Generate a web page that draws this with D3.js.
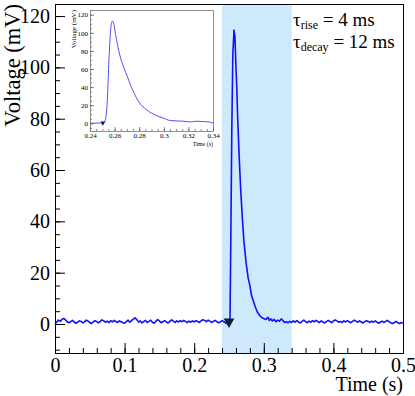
<!DOCTYPE html>
<html>
<head>
<meta charset="utf-8">
<script src="https://cdn.jsdelivr.net/npm/d3@7"></script>
<style>
  html, body { margin: 0; padding: 0; background: #fff; }
  svg { display: block; }
  svg text { font-family: "Liberation Serif", Tinos, "Times New Roman", Times, "DejaVu Serif", serif !important; fill: #000; }
</style>
</head>
<body>
<svg id="chart" width="415" height="396"></svg>
<script>
// ---------------- data ----------------
// baseline before the pulse: samples evenly spaced from 0 to 0.25 s
const baselineBefore = [0.0, 0.8, 1.5, 1.0, 1.8, 2.2, 1.6, 0.9, 0.5, 0.9, 1.4, 0.8, 0.3, 0.7, 1.2, 1.0, 0.4, 0.9, 1.5, 1.1,
  0.6, 0.2, 0.8, 1.3, 0.9, 0.4, 1.0, 1.6, 1.2, 0.7, 1.1, 0.5, 1.3, 0.8, 1.4, 1.0, 0.6, 1.2, 0.9, 0.5,
  0.3, 0.9, 1.5, 0.7, 1.3, 1.9, 2.4, 1.7, 0.8, 1.2, 0.4, 0.9, 1.4, 0.6, 1.0, 1.5, 0.7, 0.3, 1.1, 1.7,
  1.2, 0.5, 0.9, 1.3, 0.8, 0.4, 1.0, 1.6, 1.1, 0.6, 1.2, 0.8, 1.3, 0.9, 1.4, 1.0, 0.5, 1.1, 0.7, 1.2,
  0.8, 1.3, 1.0, 0.6, 1.2, 1.7, 1.4, 0.9, 1.5, 1.1, 0.6, 1.0, 1.4, 0.9, 0.5, 0.8, 1.3, 0.9, 0.4, 0.2, 0.0];
const baselineBeforeRange = [0, 0.25];
// pulse region (time s, voltage mV)
const pulseTime = [0.2505, 0.2515, 0.2525, 0.2540, 0.2555, 0.2572, 0.2585, 0.2600, 0.2612, 0.2625, 0.2645, 0.2665,
  0.2690, 0.2715, 0.2745, 0.2775, 0.2800, 0.2825, 0.2850, 0.2880, 0.2910, 0.2950, 0.2990, 0.3030, 0.3060, 0.3080];
const pulseVolt = [0.5, 3, 30, 75, 105, 114.5, 112, 100, 92, 80, 66, 54,
  42, 32, 24, 18, 15, 11, 9, 6.5, 4.5, 3, 2.2, 1.8, 2.6, 1.4];
// baseline after the pulse: samples evenly spaced from 0.31 to 0.5 s
const baselineAfter = [2.0, 1.2, 1.8, 0.9, 1.5, 1.1, 2.0, 1.3, 0.6, 0.9, 0.5, 1.0, 0.6, 1.2, 0.7, 1.3, 0.8, 0.4, 1.0, 1.5,
  0.9, 0.5, 1.1, 0.7, 1.3, 0.8, 1.4, 1.0, 0.6, 1.2, 0.8, 0.4, 0.9, 1.4, 1.0, 0.5, 1.1, 1.6, 1.2, 0.7,
  1.0, 0.6, 1.2, 0.8, 1.3, 0.9, 0.5, 1.0, 1.5, 1.1, 0.7, 1.2, 0.8, 0.4, 0.9, 1.3, 1.0, 0.6, 1.1, 0.7,
  1.2, 0.8, 0.3, 0.7, 1.1, 0.6, 1.0, 1.4, 0.9, 0.4, 0.2, 0.6, 1.0, 0.5, 0.2, 0.6, 0.3];
const baselineAfterRange = [0.31, 0.5];
// trigger marker
const markerPoint = [0.25, 0.9];
// shaded window
const windowRange = [0.24, 0.34];
// inset: averaged pulse
const insetTime = [0.24, 0.245, 0.2505, 0.2515, 0.2527, 0.2541, 0.2554, 0.2568, 0.2581, 0.2595, 0.2608, 0.2622,
  0.2649, 0.2676, 0.2703, 0.2730, 0.2757, 0.2778, 0.2811, 0.2851, 0.2878, 0.2919, 0.2959, 0.30, 0.3054,
  0.3108, 0.3162, 0.3216, 0.327, 0.3324, 0.3370, 0.3392, 0.34];
const insetVolt = [0, 0.2, 0.5, 1, 5, 26, 70, 103, 113, 109, 98, 88,
  72, 61, 52, 42, 34, 28, 21, 16, 13, 10, 7.5, 5.5, 3,
  2.6, 2.3, 1.5, 2.3, 1.9, 1.5, 0.4, 0.8];
const insetMarker = [0.2505, 0.5];
// ticks
const xMajorTicks = [0, 0.1, 0.2, 0.3, 0.4, 0.5];
const xTickLabels = ["0", "0.1", "0.2", "0.3", "0.4", "0.5"];
const yMajorTicks = [0, 20, 40, 60, 80, 100, 120];
const yTickLabels = ["0", "20", "40", "60", "80", "100", "120"];
const insetXTicks = [0.24, 0.26, 0.28, 0.30, 0.32, 0.34];
const insetXLabels = ["0.24", "0.26", "0.28", "0.3", "0.32", "0.34"];
const insetYTicks = [0, 20, 40, 60, 80, 100, 120];
const insetYLabels = ["0", "20", "40", "60", "80", "100", "120"];

// ---------------- build series ----------------
function evenly(values, range) {
  const n = values.length;
  return values.map((v, i) => [range[0] + (range[1] - range[0]) * i / (n - 1), v]);
}
const mainSeries = [].concat(
  evenly(baselineBefore, baselineBeforeRange),
  pulseTime.map((t, i) => [t, pulseVolt[i]]),
  evenly(baselineAfter, baselineAfterRange)
);
const insetSeries = insetTime.map((t, i) => [t, insetVolt[i]]);

const SERIF = '"Liberation Serif", Tinos, "Times New Roman", Times, "DejaVu Serif", serif';

// ---------------- main plot ----------------
const svg = d3.select("#chart");
const x = d3.scaleLinear().domain([0, 0.5]).range([55, 403]);
const y = d3.scaleLinear().domain([-11.3, 124.7]).range([353, 4]);

// shaded window
svg.append("rect")
  .attr("x", x(windowRange[0])).attr("y", y.range()[1])
  .attr("width", x(windowRange[1]) - x(windowRange[0]))
  .attr("height", y.range()[0] - y.range()[1])
  .attr("fill", "#cde9fb");

function range(a, b, s) { const r = []; for (let v = a; v <= b + 1e-9; v += s) r.push(+v.toFixed(6)); return r; }

// minor ticks
svg.append("g").attr("transform", `translate(0,${y.range()[0]})`)
  .call(d3.axisBottom(x).tickValues(range(0, 0.5, 0.02)).tickSize(-5).tickFormat(""))
  .call(g => g.select(".domain").remove());
svg.append("g").attr("transform", `translate(${x.range()[0]},0)`)
  .call(d3.axisLeft(y).tickValues(range(-10, 120, 5)).tickSize(-5).tickFormat(""))
  .call(g => g.select(".domain").remove());
// major ticks
const xAx = svg.append("g").attr("transform", `translate(0,${y.range()[0]})`)
  .call(d3.axisBottom(x).tickValues(xMajorTicks).tickSize(-10).tickPadding(5)
    .tickFormat((d, i) => xTickLabels[i]))
  .call(g => g.select(".domain").remove());
xAx.attr("font-family", null).attr("font-size", 20);
const yAx = svg.append("g").attr("transform", `translate(${x.range()[0]},0)`)
  .call(d3.axisLeft(y).tickValues(yMajorTicks).tickSize(-10).tickPadding(5)
    .tickFormat((d, i) => yTickLabels[i]))
  .call(g => g.select(".domain").remove());
yAx.attr("font-family", null).attr("font-size", 20);
svg.selectAll(".tick line").attr("stroke", "#000").attr("stroke-width", 1);

// frame
svg.append("rect")
  .attr("x", x.range()[0] + 0.5).attr("y", y.range()[1] + 0.5)
  .attr("width", x.range()[1] - x.range()[0]).attr("height", y.range()[0] - y.range()[1])
  .attr("fill", "none").attr("stroke", "#000").attr("stroke-width", 1);

// main line
const line = d3.line().x(d => x(d[0])).y(d => y(d[1]));
svg.append("path").datum(mainSeries)
  .attr("d", line).attr("fill", "none")
  .attr("stroke", "#1010ff").attr("stroke-width", 1.6).attr("stroke-linejoin", "round");

// trigger marker (down triangle)
const tri = d3.symbol().type(d3.symbolTriangle).size(50);
svg.append("path").attr("d", tri())
  .attr("transform", `translate(${x(markerPoint[0])},${y(markerPoint[1])}) rotate(180)`)
  .attr("fill", "#10202e");

// axis titles
svg.append("text").attr("x", 403).attr("y", 391).attr("text-anchor", "end")
  .attr("font-size", 20).text("Time (s)");
svg.append("text").attr("transform", "translate(19.5,4) rotate(-90)").attr("text-anchor", "end")
  .attr("font-size", 22.5).text("Voltage (mV)");

// tau labels
const t1 = svg.append("text").attr("x", 293).attr("y", 26).attr("font-size", 19);
t1.append("tspan").text("τ");
t1.append("tspan").attr("font-size", 12).attr("dy", 3).text("rise");
t1.append("tspan").attr("dy", -3).text(" = 4 ms");
const t2 = svg.append("text").attr("x", 293).attr("y", 48).attr("font-size", 19);
t2.append("tspan").text("τ");
t2.append("tspan").attr("font-size", 12).attr("dy", 3).text("decay");
t2.append("tspan").attr("dy", -3).text(" = 12 ms");

// ---------------- inset ----------------
const ix = d3.scaleLinear().domain([0.24, 0.34]).range([90, 213]);
const iy = d3.scaleLinear().domain([-8.5, 125.2]).range([131, 10]);
const ins = svg.append("g");
ins.append("rect").attr("x", 68).attr("y", 6).attr("width", 150).attr("height", 142).attr("fill", "#fff");

ins.append("g").attr("transform", `translate(0,${iy.range()[0]})`)
  .call(d3.axisBottom(ix).tickValues(range(0.24, 0.34, 0.005)).tickSize(-2).tickFormat(""))
  .call(g => g.select(".domain").remove());
ins.append("g").attr("transform", `translate(${ix.range()[0]},0)`)
  .call(d3.axisLeft(iy).tickValues(range(-5, 125, 5)).tickSize(-2).tickFormat(""))
  .call(g => g.select(".domain").remove());
const ixAx = ins.append("g").attr("transform", `translate(0,${iy.range()[0]})`)
  .call(d3.axisBottom(ix).tickValues(insetXTicks).tickSize(-4).tickPadding(2)
    .tickFormat((d, i) => insetXLabels[i]))
  .call(g => g.select(".domain").remove());
ixAx.attr("font-family", null).attr("font-size", 7);
const iyAx = ins.append("g").attr("transform", `translate(${ix.range()[0]},0)`)
  .call(d3.axisLeft(iy).tickValues(insetYTicks).tickSize(-4).tickPadding(2)
    .tickFormat((d, i) => insetYLabels[i]))
  .call(g => g.select(".domain").remove());
iyAx.attr("font-family", null).attr("font-size", 7);
ins.selectAll(".tick line").attr("stroke", "#333").attr("stroke-width", 0.6);

ins.append("rect")
  .attr("x", ix.range()[0] + 0.5).attr("y", iy.range()[1] + 0.5)
  .attr("width", ix.range()[1] - ix.range()[0]).attr("height", iy.range()[0] - iy.range()[1])
  .attr("fill", "none").attr("stroke", "#777").attr("stroke-width", 0.8);

const iline = d3.line().x(d => ix(d[0])).y(d => iy(d[1])).curve(d3.curveMonotoneX);
ins.append("path").datum(insetSeries)
  .attr("d", iline).attr("fill", "none")
  .attr("stroke", "#5050ff").attr("stroke-width", 1);
ins.append("path").attr("d", d3.symbol().type(d3.symbolTriangle).size(10)())
  .attr("transform", `translate(${ix(insetMarker[0])},${iy(insetMarker[1])}) rotate(180)`)
  .attr("fill", "#10202e");

ins.append("text").attr("transform", "translate(76,10) rotate(-90)").attr("text-anchor", "end")
  .attr("font-size", 7).text("Voltage (mV)");
ins.append("text").attr("x", 213).attr("y", 146).attr("text-anchor", "end")
  .attr("font-size", 6).text("Time (s)");

svg.selectAll("text").style("font-family", SERIF);
</script>
</body>
</html>
